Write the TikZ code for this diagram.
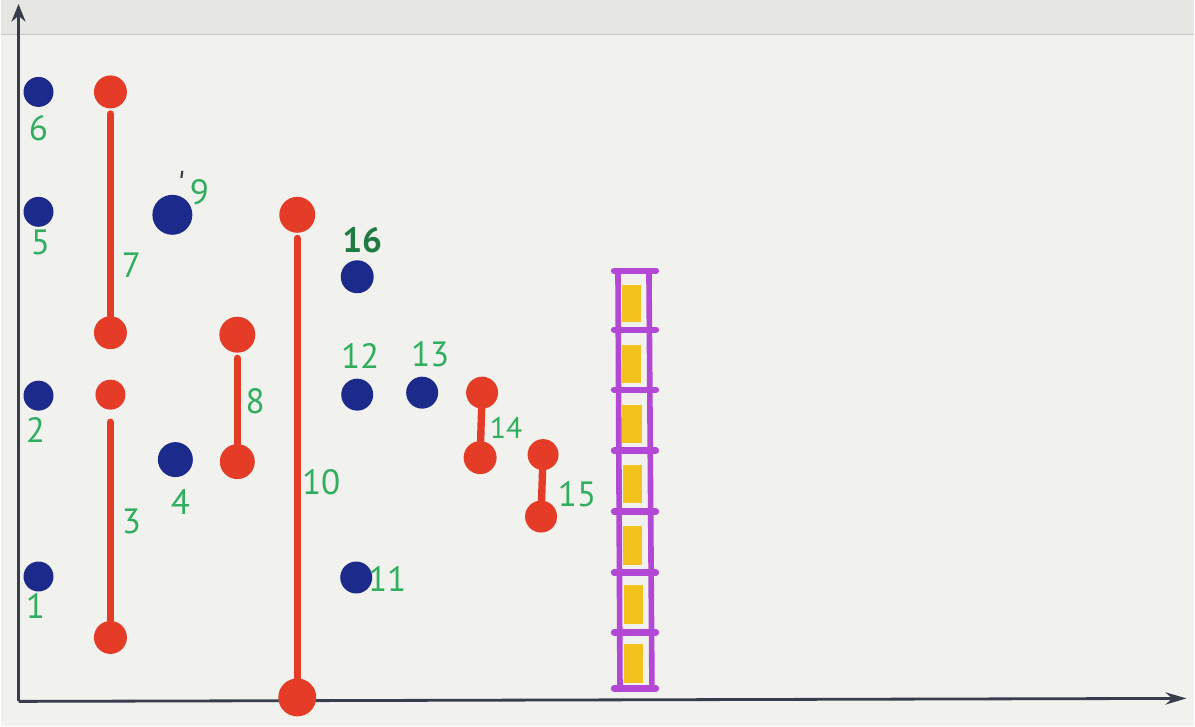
\documentclass[tikz,border=0pt]{standalone}
\usepackage{fontspec}
\setsansfont{PT Sans}
\usepackage{tikz}
\usetikzlibrary{arrows.meta}
\definecolor{board}{HTML}{F1F1EE}
\definecolor{boardtop}{HTML}{E6E6E3}
\definecolor{axisink}{HTML}{383D4E}
\definecolor{dotblue}{HTML}{1C2A8C}
\definecolor{dotred}{HTML}{E53C27}
\definecolor{labgreen}{HTML}{2FAE5E}
\definecolor{ladder}{HTML}{B347D6}
\definecolor{slot}{HTML}{F4C21C}

\begin{document}
\begin{tikzpicture}[x=0.02cm, y=-0.02cm,
    bdot/.style={circle, fill=dotblue, inner sep=0pt, minimum size=0.6cm},
    rdot/.style={circle, fill=dotred, inner sep=0pt, minimum size=0.66cm},
    bar/.style={dotred, line width=4.2pt, line cap=round, shorten <=3pt},
    num/.style={labgreen, font=\sffamily\fontsize{20}{22}\selectfont},
    rail/.style={ladder, line width=3.2pt, line cap=round}]
    % board
    \fill[board] (0,0) rectangle (1195,727);
    \fill[boardtop] (0,0) rectangle (1195,35);
    \draw[gray!45, line width=0.6pt] (0,35) -- (1195,35);
    \useasboundingbox (0,0) rectangle (1195,727);

    % axes
    \coordinate (O) at (18,702);
    \coordinate (ytip) at (18,4);
    \coordinate (xtip) at (1187,699);
    \draw[axisink, line width=1.6pt, -{Stealth[length=10pt,width=8pt]}] (O) -- (ytip);
    \draw[axisink, line width=1.6pt, -{Stealth[length=12pt,width=7pt]}] (O) -- (xtip);

    % blue dots
    \node[bdot] (b6) at (38,92) {};
    \node[bdot] (b5) at (38,212) {};
    \node[bdot] (b2) at (38,396) {};
    \node[bdot] (b1) at (38,577) {};
    \node[bdot, minimum size=0.8cm] (b9) at (172,215) {};
    \node[bdot, minimum size=0.7cm] (b4) at (175,460) {};
    \node[bdot, minimum size=0.66cm] (b16) at (357,277) {};
    \node[bdot, minimum size=0.64cm] (b12) at (357,395) {};
    \node[bdot, minimum size=0.64cm] (b13) at (422,393) {};
    \node[bdot, minimum size=0.64cm] (b11) at (356,578) {};

    % red bars
    \node[rdot] (r7t) at (110,92) {};
    \node[rdot] (r7b) at (110,333) {};
    \node[rdot, minimum size=0.6cm] (r3t) at (110,395) {};
    \node[rdot] (r3b) at (110,638) {};
    \node[rdot, minimum size=0.72cm] (r8t) at (237,335) {};
    \node[rdot, minimum size=0.7cm] (r8b) at (237,462) {};
    \node[rdot, minimum size=0.72cm] (r10t) at (297,215) {};
    \node[rdot, minimum size=0.76cm] (r10b) at (297,698) {};
    \node[rdot, minimum size=0.64cm] (r14t) at (482,393) {};
    \node[rdot, minimum size=0.66cm] (r14b) at (480,458) {};
    \node[rdot, minimum size=0.62cm] (r15t) at (543,455) {};
    \node[rdot, minimum size=0.64cm] (r15b) at (541,517) {};
    \draw[bar] (r7t) -- (r7b);
    \draw[bar, shorten <=7pt] (r3t) -- (r3b);
    \draw[bar] (r8t) -- (r8b);
    \draw[bar] (r10t) -- (r10b);
    \draw[bar, shorten <=0pt] (r14t) -- (r14b);
    \draw[bar, shorten <=0pt] (r15t) -- (r15b);

    % numbers
    \node[num] (n6) at (38,128) {6};
    \node[num] (n5) at (40,243) {5};
    \node[num] (n2) at (35,430) {2};
    \node[num] (n1) at (35,607) {1};
    \node[num] (n7) at (131,265) {7};
    \node[num] (n3) at (131,522) {3};
    \node[num] (n9) at (199,192) {9};
    \draw[axisink, line width=1.2pt] (182,171) -- (181,178);
    \node[num] (n4) at (180,502) {4};
    \node[num] (n8) at (255,402) {8};
    \node[num] (n10) at (321,483) {10};
    \node[num, text=labgreen!70!black, font=\sffamily\bfseries\fontsize{20}{22}\selectfont] (n16) at (362,240) {16};
    \node[num] (n12) at (360,356) {12};
    \node[num] (n13) at (430,355) {13};
    \node[num] (n11) at (387,580) {11};
    \node[num, font=\sffamily\fontsize{17}{20}\selectfont] (n14) at (506,428) {14};
    \node[num] (n15) at (577,495) {15};

    % ladder
    \fill[slot] (622,285) rectangle (641,322);
    \fill[slot] (622,345) rectangle (641,383);
    \fill[slot] (622,405) rectangle (642,443);
    \fill[slot] (623,465) rectangle (642,503);
    \fill[slot] (623,526) rectangle (642,565);
    \fill[slot] (624,586) rectangle (643,625);
    \fill[slot] (624,645) rectangle (643,684);
    \coordinate (lt) at (618,271);
    \coordinate (lb) at (620,690);
    \coordinate (rt) at (649,271);
    \coordinate (rb) at (652,690);
    \draw[rail] (lt) -- (lb);
    \draw[rail] (rt) -- (rb);
    \foreach \yy in {271,330,390,451,512,573,633,689}
        \draw[rail, line width=3.6pt] (614,\yy) -- (656,\yy);
\end{tikzpicture}
\end{document}
